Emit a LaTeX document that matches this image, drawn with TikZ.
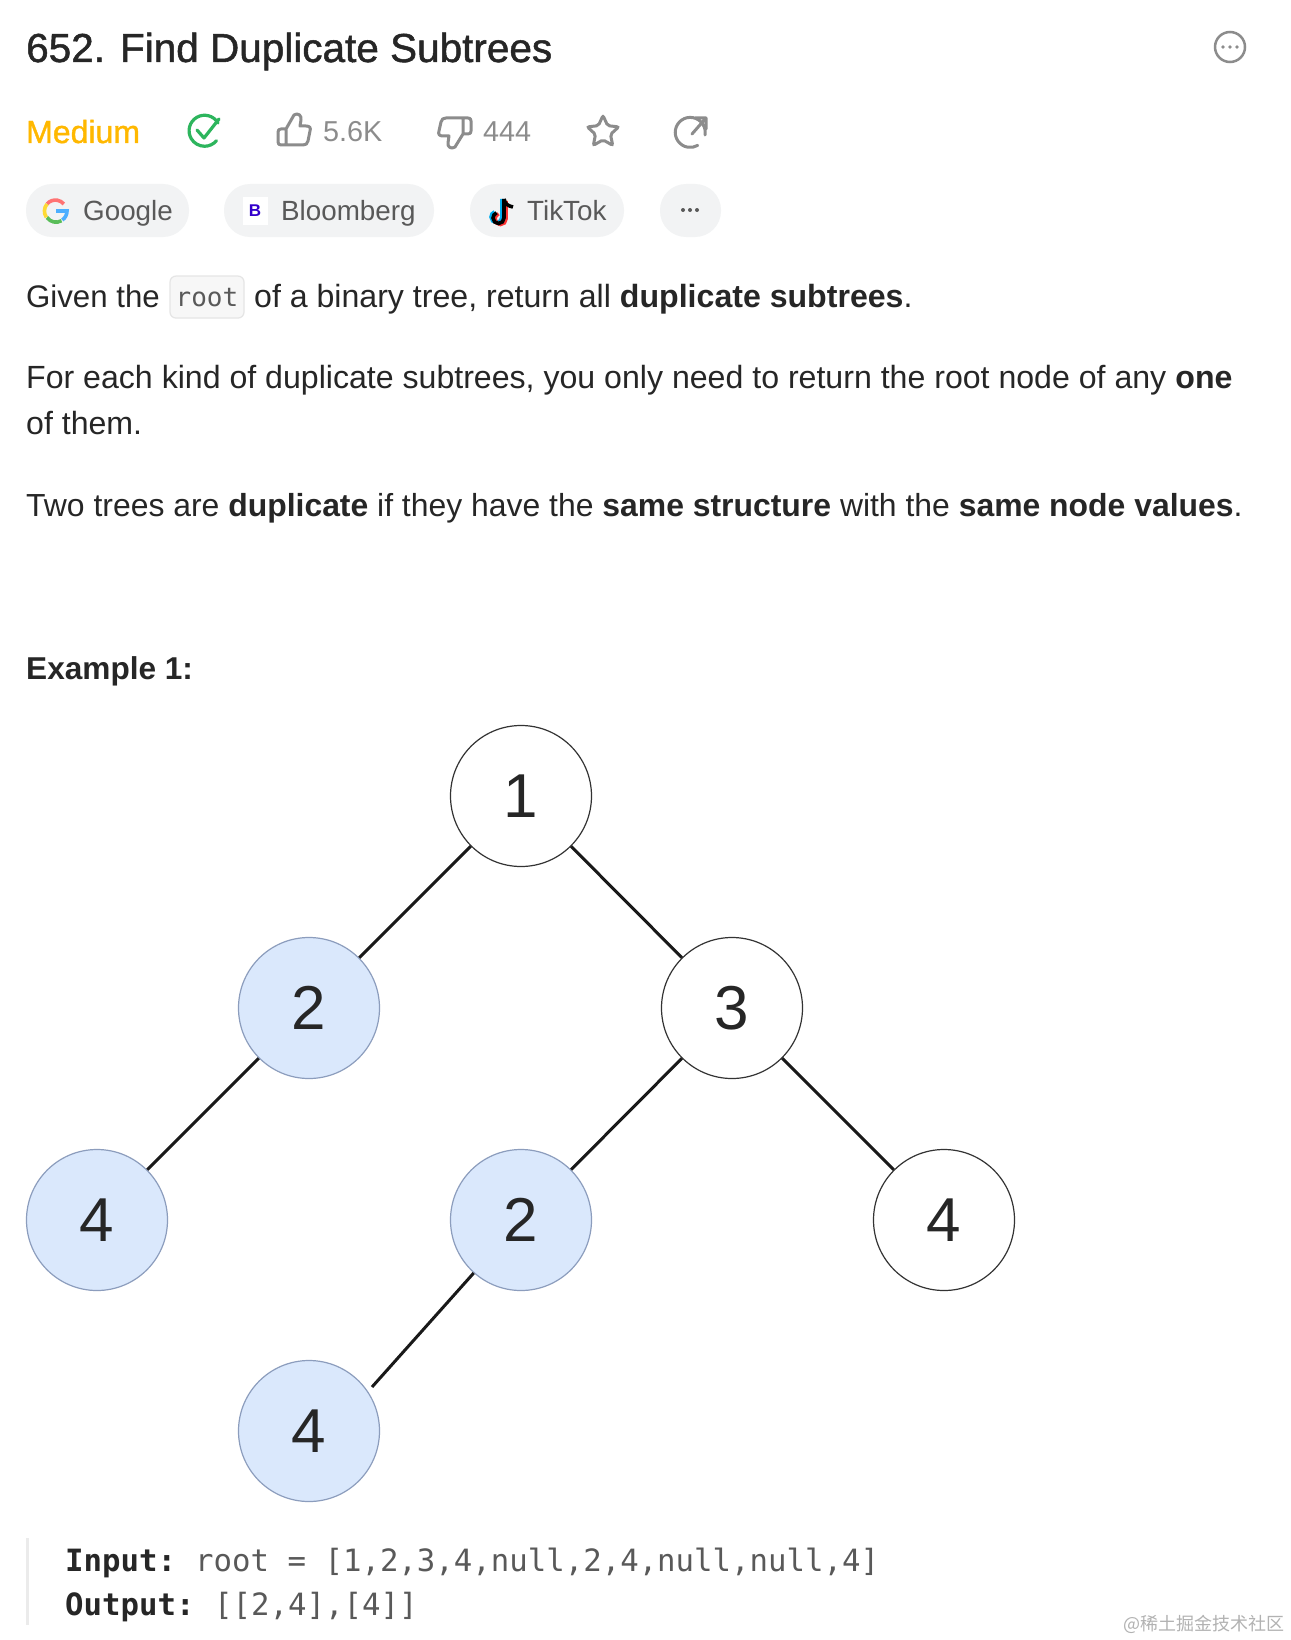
\documentclass[tikz,border=0pt]{standalone}
\usepackage{fontspec}
\setmainfont{Liberation Sans}
\setmonofont{DejaVu Sans Mono}
\newfontfamily\medfont[FakeBold=1.2]{Liberation Sans}
\newfontfamily\cjkfont{Noto Sans CJK SC}
\usetikzlibrary{shapes.geometric}
\definecolor{ink}{HTML}{262626}
\definecolor{muted}{HTML}{8C8C8C}
\definecolor{chiptext}{HTML}{595959}
\definecolor{chipfill}{HTML}{F2F3F4}
\definecolor{amber}{HTML}{FFB800}
\definecolor{okgreen}{HTML}{2DB55D}
\definecolor{dupfill}{HTML}{DAE8FC}
\definecolor{dupline}{HTML}{8C9DBD}
\begin{document}
\begin{tikzpicture}[x=1pt,y=-1pt]
\tikzstyle{vertex}=[circle,draw=black!80,line width=1.2pt,fill=white,minimum size=141pt,inner sep=0pt,font=\fontsize{62}{62}\selectfont,text=ink]
\tikzstyle{dup}=[vertex,draw=dupline,fill=dupfill]
\tikzstyle{edge}=[line width=3pt,black!90]
\tikzstyle{line}=[anchor=base west,inner sep=0pt,text=ink,font=\fontsize{32.1}{32.1}\selectfont]
\tikzstyle{stat}=[anchor=base west,inner sep=0pt,text=muted,font=\fontsize{28.8}{28.8}\selectfont]
\tikzstyle{chip}=[anchor=base west,inner sep=0pt,text=chiptext,font=\fontsize{27.8}{27.8}\selectfont]
\tikzstyle{code}=[anchor=base west,inner sep=0pt,font=\ttfamily\fontsize{30.7}{30.7}\selectfont]
\tikzstyle{icon}=[muted,line width=3pt,line join=round,line cap=round]
\useasboundingbox (0,0) rectangle (1290,1640);
\fill[white] (0,0) rectangle (1290,1640);
% header
\node[anchor=base west,inner sep=0pt,text=ink,font=\medfont\fontsize{40.5}{40.5}\selectfont] (Title) at (26,62) {652. Find Duplicate Subtrees};
\draw[muted,line width=2.5pt] (1230,47) circle (15);
\fill[muted] (1223,47) circle (1.9) (1230,47) circle (1.9) (1237,47) circle (1.9);
\node[stat,text=amber,font=\medfont\fontsize{32}{32}\selectfont] (Level) at (26,143) {Medium};
\draw[okgreen,line width=3.2pt,line cap=round] (218,123) arc (-30:-320:15.5);
\draw[okgreen,line width=3.2pt,line cap=round,line join=round] (197,130) -- (204,138) -- (219,119);
\draw[icon] (286,129) -- (286,145) -- (281,145) .. controls (279,145) and (278,144) .. (278,142) -- (278,132) .. controls (278,130) and (279,129) .. (281,129) -- (286,129) -- (294,115) .. controls (298,112) and (302,116) .. (301,120) -- (300,126) -- (306,126) .. controls (310,126) and (311,128) .. (310,131) -- (308,141) .. controls (307,144) and (306,145) .. (303,145) -- (286,145);
\node[stat] (Likes) at (323,142) {5.6K};
\draw[icon] (463,134) -- (463,118) -- (468,118) .. controls (470,118) and (471,119) .. (471,121) -- (471,131) .. controls (471,133) and (470,134) .. (468,134) -- (463,134) -- (455,147) .. controls (451,150) and (447,146) .. (448,143) -- (449,136) -- (443,136) .. controls (439,136) and (438,134) .. (439,131) -- (441,122) .. controls (442,119) and (443,118) .. (446,118) -- (463,118);
\node[stat] (Dislikes) at (483,142) {444};
\node[star,star points=5,star point ratio=2.1,draw=muted,line width=3pt,rounded corners=2pt,minimum size=33pt,inner sep=0pt] (Fav) at (603,132) {};
\draw[icon] (705,135) arc (10:-300:15) (692,134) -- (706,118) (695,118) -- (706,118) -- (706,129);
% chips
\fill[chipfill,rounded corners=26pt] (26,184) rectangle (189,237);
\fill[chipfill,rounded corners=26pt] (224,184) rectangle (434,237);
\fill[chipfill,rounded corners=26pt] (470,184) rectangle (624,237);
\fill[chipfill,rounded corners=26pt] (660,184) rectangle (721,237);
\draw[line width=3.6pt,red!55!white] (47,204) arc (-140:-40:11);
\draw[line width=3.6pt,yellow!70!orange!80] (47,204) arc (-140:-215:11);
\draw[line width=3.6pt,green!60!black!65] (47,217.5) arc (-215:-300:11) (47,217.5) arc (145:60:11);
\draw[line width=3.6pt,blue!45!cyan!70] (56,211) -- (67,211) arc (0:55:11);
\node[chip] (Google) at (83,220) {Google};
\fill[white] (243,197) rectangle (268,225);
\node[anchor=center,inner sep=0pt,text=blue!60!violet,font=\fontsize{17}{17}\selectfont\bfseries] (BLogo) at (255,211) {B};
\node[chip] (Bloomberg) at (281,220) {Bloomberg};
\draw[cyan,line width=3.6pt] (502,199) -- (502,217) arc (0:250:5.5);
\draw[red!80!white,line width=3.6pt] (506,201) -- (506,219) arc (0:250:5.5);
\draw[black,line width=3.6pt] (504,199) -- (504,218) arc (0:250:5.5) (504,199) .. controls (505,204) and (508,206) .. (513,207);
\node[chip] (TikTok) at (527,220) {TikTok};
\fill[chiptext] (683,210) circle (2) (690,210) circle (2) (697,210) circle (2);
% text
\node[line,font=\fontsize{31.2}{31.2}\selectfont] (Given) at (26,307) {Given the};
\node[anchor=base,draw=black!10,fill=black!3,line width=1.2pt,rounded corners=6pt,minimum width=74pt,minimum height=42pt,inner sep=0pt,text=chiptext,font=\ttfamily\fontsize{26}{26}\selectfont] (Root) at (207,306) {root};
\node[line] (Rest) at (254,307) {of a binary tree, return all {\bfseries duplicate subtrees}.};
\node[line] (Each) at (26,388) {For each kind of duplicate subtrees, you only need to return the root node of any {\bfseries one}};
\node[line] (Them) at (26,434) {of them.};
\node[line,font=\fontsize{31.9}{31.9}\selectfont] (Two) at (26,516) {Two trees are {\bfseries duplicate} if they have the {\bfseries same structure} with the {\bfseries same node values}.};
\node[line,font=\fontsize{31.6}{31.6}\selectfont\bfseries] (Example) at (26,679) {Example 1:};
% tree
\node[vertex] (V1) at (521,796) {1};
\node[dup] (V2) at (309,1008) {2};
\node[vertex] (V3) at (732,1008) {3};
\node[dup] (V4) at (97,1220) {4};
\node[dup] (V5) at (521,1220) {2};
\node[vertex] (V6) at (944,1220) {4};
\node[dup] (V7) at (309,1431) {4};
\coordinate (V7end) at (372,1387);
\draw[edge] (V1) -- (V2);
\draw[edge] (V1) -- (V3);
\draw[edge] (V2) -- (V4);
\draw[edge] (V3) -- (V5);
\draw[edge] (V3) -- (V6);
\draw[edge] (V5) -- (V7end);
% example block
\fill[black!8] (26,1538) rectangle (29,1625);
\node[code,text=ink,font=\ttfamily\bfseries\fontsize{30.7}{30.7}\selectfont] (Input) at (65,1571) {Input:};
\node[code,text=chiptext] (InputVal) at (195,1571) {root = [1,2,3,4,null,2,4,null,null,4]};
\node[code,text=ink,font=\ttfamily\bfseries\fontsize{30.7}{30.7}\selectfont] (Output) at (65,1615) {Output:};
\node[code,text=chiptext] (OutputVal) at (214,1615) {[[2,4],[4]]};
\node[anchor=base west,inner sep=0pt,text=black!30,font=\cjkfont\fontsize{18}{18}\selectfont] (Mark) at (1123,1630) {@稀土掘金技术社区};
\end{tikzpicture}
\end{document}
